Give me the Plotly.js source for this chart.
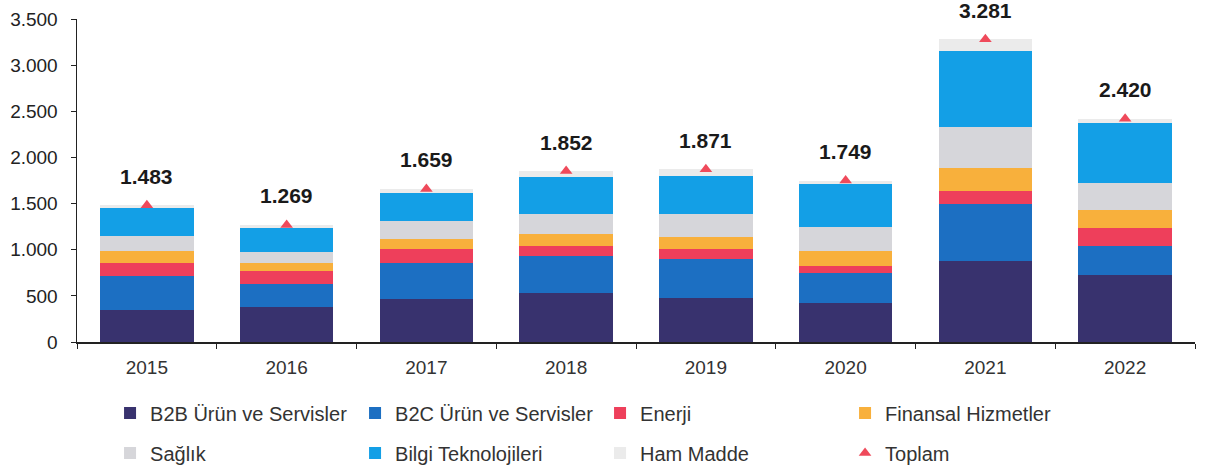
<!DOCTYPE html>
<html>
<head>
<meta charset="utf-8">
<script src="https://cdn.plot.ly/plotly-3.0.1.min.js"></script>
<style>html,body{margin:0;padding:0;background:#fff;}#chart{width:1208px;height:472px;}</style>
</head>
<body>
<div id="chart"></div>
<script>
const years = ['2015','2016','2017','2018','2019','2020','2021','2022'];
const b2b      = [347, 376, 466, 527, 480, 426, 881, 726];
const b2c      = [368, 252, 386, 405, 416, 325, 614, 318];
const enerji   = [137, 145, 156, 112, 112,  76, 145, 188];
const finansal = [138,  79, 104, 126, 133, 163, 242, 198];
const saglik   = [158, 120, 199, 213, 242, 253, 451, 296];
const bilgi    = [307, 260, 300, 401, 419, 466, 820, 650];
const hamMadde = [ 28,  37,  48,  68,  69,  40, 128,  44];
const toplam   = [1483, 1269, 1659, 1852, 1871, 1749, 3281, 2420];
const seriesNames = ['B2B Ürün ve Servisler','B2C Ürün ve Servisler','Enerji','Finansal Hizmetler','Sağlık','Bilgi Teknolojileri','Ham Madde','Toplam'];
const colors = ['#38326e','#1c6fc2','#ee3f5b','#f8b03c','#d6d6da','#139fe6','#ebebeb','#ef4a5b'];

const FONT = '"Liberation Sans", Arial, sans-serif';
function fmt(v){ return String(v).replace(/\B(?=(\d{3})+(?!\d))/g, '.'); }

const barData = [b2b, b2c, enerji, finansal, saglik, bilgi, hamMadde];
const traces = barData.map((vals, i) => ({
  type: 'bar', x: years, y: vals, name: seriesNames[i],
  marker: {color: colors[i], line: {width: 0}},
  legend: i < 4 ? 'legend' : 'legend2',
  hoverinfo: 'skip'
}));
traces.push({
  type: 'scatter', mode: 'markers', x: years, y: toplam, name: seriesNames[7],
  marker: {symbol: 'triangle-up', size: 11, color: colors[7]},
  legend: 'legend2', cliponaxis: false
});

const annotations = years.map((yr, i) => ({
  x: i, y: toplam[i], text: fmt(toplam[i]), showarrow: false,
  yshift: 29, yanchor: 'middle', xanchor: 'center',
  font: {family: FONT, size: 21, color: '#1a1a1a', weight: 'bold'}
}));

const legendCommon = {
  orientation: 'h', xanchor: 'left', yanchor: 'middle',
  xref: 'container', yref: 'container',
  entrywidth: 200, entrywidthmode: 'pixels', traceorder: 'normal',
  font: {family: FONT, size: 20, color: '#333'}, bgcolor: 'rgba(0,0,0,0)',
  itemclick: false, itemdoubleclick: false
};

const layout = {
  width: 1208, height: 472,
  margin: {l: 77, r: 13, t: 19, b: 130},
  paper_bgcolor: '#fff', plot_bgcolor: '#fff',
  barmode: 'stack', bargap: 0.33,
  separators: ',.',
  font: {family: FONT, size: 19, color: '#333'},
  showlegend: true,
  legend: Object.assign({}, legendCommon, {x: 0.0911, y: 0.125}),
  legend2: Object.assign({}, legendCommon, {x: 0.0911, y: 0.0403}),
  xaxis: {
    type: 'category', showline: true, linecolor: '#222', linewidth: 1.5,
    ticks: 'outside', tickson: 'boundaries', ticklen: 5, tickcolor: '#222',
    showgrid: false, ticklabelstandoff: 8,
    tickfont: {family: FONT, size: 19, color: '#333'}
  },
  yaxis: {
    range: [0, 3500], dtick: 500, tick0: 0, tickformat: ',d',
    showline: true, linecolor: '#222', linewidth: 1.5,
    ticks: 'outside', ticklen: 5, tickcolor: '#222',
    showgrid: false, zeroline: false, ticklabelstandoff: 9,
    tickfont: {family: FONT, size: 19, color: '#222'}
  },
  annotations: annotations
};

Plotly.newPlot('chart', traces, layout, {displayModeBar: false, staticPlot: true});
</script>
</body>
</html>
